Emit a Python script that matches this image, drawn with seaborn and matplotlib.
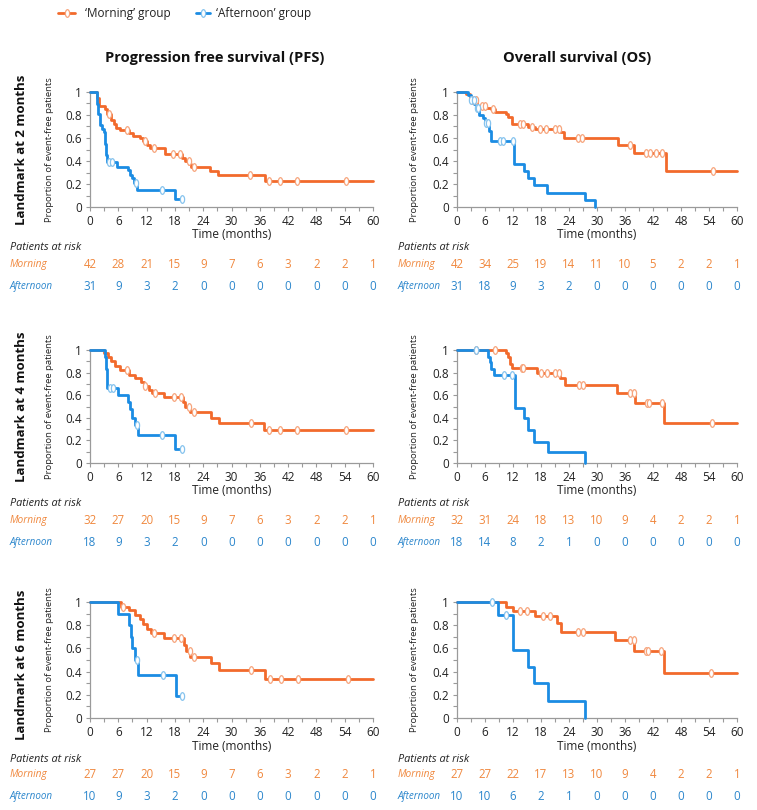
import numpy as np
import pandas as pd
import matplotlib
matplotlib.use("Agg")
import matplotlib.pyplot as plt
import matplotlib.transforms as mtransforms
from matplotlib.path import Path
from matplotlib.lines import Line2D
import seaborn as sns

# ---------------- data ----------------
x_ticks = [0, 6, 12, 18, 24, 30, 36, 42, 48, 54, 60]
y_ticks = [0, 0.2, 0.4, 0.6, 0.8, 1.0]
y_tick_labels = ["0", "0.2", "0.4", "0.6", "0.8", "1"]
col_titles = ["Progression free survival (PFS)", "Overall survival (OS)"]
row_titles = ["Landmark at 2 months", "Landmark at 4 months", "Landmark at 6 months"]
group_labels = ["\u2018Morning\u2019 group", "\u2018Afternoon\u2019 group"]

# Landmark 2 months - PFS
pfs2_m_t = [0, 1.5, 2.0, 3.2, 3.6, 4.4, 5.1, 5.6, 6.4, 8.3, 9.2, 10.6, 11.3, 12.0, 12.8, 15.8, 19.5, 20.1, 21.0, 21.5, 25.5, 27.2, 37.0]
pfs2_m_s = [1, 0.95, 0.88, 0.85, 0.81, 0.76, 0.72, 0.69, 0.67, 0.64, 0.62, 0.60, 0.57, 0.54, 0.51, 0.46, 0.43, 0.40, 0.37, 0.35, 0.31, 0.28, 0.23]
pfs2_m_c = [4.0, 7.8, 11.7, 13.6, 17.7, 19.1, 20.9, 22.0, 34.0, 37.9, 40.2, 43.8, 54.3]
pfs2_a_t = [0, 1.4, 1.8, 2.1, 2.6, 3.0, 3.2, 3.4, 3.6, 5.7, 8.0, 8.5, 8.9, 9.4, 9.9, 18.1]
pfs2_a_s = [1, 0.90, 0.81, 0.71, 0.68, 0.65, 0.55, 0.45, 0.39, 0.35, 0.32, 0.28, 0.25, 0.21, 0.15, 0.07]
pfs2_a_c = [4.0, 4.6, 9.7, 15.2, 19.4]
pfs2_risk_m = [42, 28, 21, 15, 9, 7, 6, 3, 2, 2, 1]
pfs2_risk_a = [31, 9, 3, 2, 0, 0, 0, 0, 0, 0, 0]

# Landmark 2 months - OS
os2_m_t = [0, 1.9, 2.7, 3.0, 4.3, 6.3, 7.2, 8.1, 10.6, 11.0, 11.7, 15.3, 16.7, 22.1, 22.9, 34.4, 38.0, 44.7]
os2_m_s = [1, 0.98, 0.95, 0.93, 0.88, 0.86, 0.85, 0.83, 0.81, 0.78, 0.72, 0.70, 0.68, 0.65, 0.60, 0.54, 0.47, 0.31]
os2_m_c = [3.3, 4.1, 5.3, 5.9, 7.7, 13.5, 14.2, 16.0, 17.8, 19.1, 21.1, 21.8, 26.0, 26.8, 37.1, 40.5, 41.4, 42.7, 43.9, 54.8]
os2_a_t = [0, 2.3, 2.9, 3.7, 4.1, 4.8, 5.5, 6.0, 6.8, 7.2, 12.3, 14.4, 15.3, 16.6, 19.3, 27.5, 29.6]
os2_a_s = [1, 0.97, 0.93, 0.90, 0.86, 0.80, 0.77, 0.73, 0.66, 0.57, 0.37, 0.31, 0.25, 0.19, 0.12, 0.06, 0.0]
os2_a_c = [3.0, 3.6, 4.3, 4.6, 6.3, 6.6, 9.2, 9.9, 12.0]
os2_risk_m = [42, 34, 25, 19, 14, 11, 10, 5, 2, 2, 1]
os2_risk_a = [31, 18, 9, 3, 2, 0, 0, 0, 0, 0, 0]

# Landmark 4 months - PFS
pfs4_m_t = [0, 3.0, 3.8, 4.5, 5.3, 6.4, 8.2, 9.6, 10.9, 11.4, 12.5, 13.2, 15.7, 19.7, 20.1, 21.2, 25.6, 27.3, 36.8]
pfs4_m_s = [1, 0.97, 0.94, 0.90, 0.86, 0.82, 0.78, 0.75, 0.72, 0.68, 0.65, 0.62, 0.58, 0.54, 0.50, 0.45, 0.40, 0.35, 0.29]
pfs4_m_c = [7.8, 11.7, 13.7, 17.8, 19.2, 21.0, 22.1, 34.2, 37.9, 40.2, 43.8, 54.3]
pfs4_a_t = [0, 3.1, 3.3, 3.4, 3.5, 3.6, 3.7, 6.0, 8.0, 8.5, 8.9, 9.6, 10.1, 18.1]
pfs4_a_s = [1, 0.94, 0.89, 0.83, 0.78, 0.72, 0.66, 0.60, 0.54, 0.48, 0.40, 0.34, 0.25, 0.125]
pfs4_a_c = [4.3, 4.8, 9.9, 15.3, 19.4]
pfs4_risk_m = [32, 27, 20, 15, 9, 7, 6, 3, 2, 2, 1]
pfs4_risk_a = [18, 9, 3, 2, 0, 0, 0, 0, 0, 0, 0]

# Landmark 4 months - OS
os4_m_t = [0, 10.5, 11.0, 11.4, 11.8, 17.1, 22.1, 23.1, 34.3, 38.1, 44.3]
os4_m_s = [1, 0.97, 0.94, 0.88, 0.84, 0.80, 0.75, 0.69, 0.62, 0.53, 0.35]
os4_m_c = [4.0, 8.2, 13.9, 14.1, 18.0, 19.3, 21.1, 21.8, 26.1, 27.1, 37.1, 37.9, 40.7, 41.1, 43.9, 54.6]
os4_a_t = [0, 6.6, 7.0, 7.3, 7.9, 12.4, 14.3, 15.2, 16.6, 19.5, 27.5]
os4_a_s = [1, 0.94, 0.89, 0.83, 0.78, 0.49, 0.40, 0.29, 0.19, 0.10, 0.0]
os4_a_c = [4.1, 10.0, 11.8]
os4_risk_m = [32, 31, 24, 18, 13, 10, 9, 4, 2, 2, 1]
os4_risk_a = [18, 14, 8, 2, 1, 0, 0, 0, 0, 0, 0]

# Landmark 6 months - PFS
pfs6_m_t = [0, 6.6, 8.3, 9.6, 10.5, 11.2, 12.0, 13.0, 15.7, 20.0, 20.4, 21.3, 25.7, 27.4, 37.0]
pfs6_m_s = [1, 0.96, 0.93, 0.89, 0.85, 0.81, 0.77, 0.73, 0.69, 0.63, 0.58, 0.53, 0.47, 0.41, 0.34]
pfs6_m_c = [7.0, 13.6, 17.9, 19.3, 21.1, 22.1, 34.2, 38.1, 40.4, 44.0, 54.6]
pfs6_a_t = [0, 6.0, 8.3, 8.7, 9.0, 9.6, 10.2, 18.2]
pfs6_a_s = [1, 0.90, 0.80, 0.70, 0.60, 0.50, 0.375, 0.1875]
pfs6_a_c = [10.0, 15.4, 19.4]
pfs6_risk_m = [27, 27, 20, 15, 9, 7, 6, 3, 2, 2, 1]
pfs6_risk_a = [10, 9, 3, 2, 0, 0, 0, 0, 0, 0, 0]

# Landmark 6 months - OS
os6_m_t = [0, 10.5, 12.0, 16.8, 21.5, 22.3, 33.9, 38.0, 44.3]
os6_m_s = [1, 0.96, 0.92, 0.88, 0.82, 0.745, 0.67, 0.575, 0.385]
os6_m_c = [13.5, 15.0, 18.5, 20.0, 25.9, 27.0, 37.0, 37.9, 40.4, 40.9, 43.7, 54.4]
os6_a_t = [0, 8.7, 12.1, 15.2, 16.6, 19.4, 27.5]
os6_a_s = [1, 0.89, 0.59, 0.44, 0.30, 0.15, 0.0]
os6_a_c = [7.5, 10.5]
os6_risk_m = [27, 27, 22, 17, 13, 10, 9, 4, 2, 2, 1]
os6_risk_a = [10, 10, 6, 2, 1, 0, 0, 0, 0, 0, 0]

# follow-up end of the morning curves (line runs to axis end), afternoon end = last censor
panels = [
    [(pfs2_m_t, pfs2_m_s, pfs2_m_c, 60, pfs2_a_t, pfs2_a_s, pfs2_a_c, 19.4, pfs2_risk_m, pfs2_risk_a),
     (os2_m_t, os2_m_s, os2_m_c, 60, os2_a_t, os2_a_s, os2_a_c, None, os2_risk_m, os2_risk_a)],
    [(pfs4_m_t, pfs4_m_s, pfs4_m_c, 60, pfs4_a_t, pfs4_a_s, pfs4_a_c, 19.4, pfs4_risk_m, pfs4_risk_a),
     (os4_m_t, os4_m_s, os4_m_c, 60, os4_a_t, os4_a_s, os4_a_c, None, os4_risk_m, os4_risk_a)],
    [(pfs6_m_t, pfs6_m_s, pfs6_m_c, 60, pfs6_a_t, pfs6_a_s, pfs6_a_c, 19.4, pfs6_risk_m, pfs6_risk_a),
     (os6_m_t, os6_m_s, os6_m_c, 60, os6_a_t, os6_a_s, os6_a_c, None, os6_risk_m, os6_risk_a)],
]

# ---------------- style ----------------
ORANGE = "#F26A2C"
ORANGE_C = "#F7A47C"
ORANGE_T = "#F0883E"
BLUE = "#1B8CE3"
BLUE_C = "#86C3EE"
BLUE_T = "#2B86CC"
GREY = "#9A9A9A"

sns.set_style("ticks")
plt.rcParams["font.family"] = ["Open Sans", "DejaVu Sans"]

W, H = 757, 810
fig = plt.figure(figsize=(W / 100, H / 100), dpi=100)

ell = Path.unit_circle().transformed(mtransforms.Affine2D().scale(0.55, 1.0))

# axes positions in pixels: (left, right) and (top, bottom)
col_px = [(90, 373), (457, 737)]
row_px = [(92, 207), (350, 463), (602, 718)]
ylab_dx = [-36, -38]
par_dx = [-80, -59]
LW = 2.0
MS = 5.5


def draw_curve(ax, t, s, c, end, color, ccolor):
    tt = list(t)
    ss = list(s)
    if end is not None:
        tt.append(end)
        ss.append(s[-1])
    df = pd.DataFrame({"t": tt, "s": ss})
    sns.lineplot(data=df, x="t", y="s", drawstyle="steps-post", color=color,
                 lw=LW, ax=ax, estimator=None, sort=False, clip_on=False, zorder=3)
    tarr = np.array(t)
    cy = [s[np.searchsorted(tarr, ci, side="right") - 1] for ci in c]
    ax.plot(c, cy, ls="none", marker=ell, ms=MS, mfc="white", mec=ccolor,
            mew=0.9, zorder=5, clip_on=False)


for r in range(3):
    top, bot = row_px[r]
    for cidx in range(2):
        left, right = col_px[cidx]
        ax = fig.add_axes([left / W, 1 - bot / H, (right - left) / W, (bot - top) / H])
        mt, ms_, mc, mend, at, as_, ac, aend, rm, ra = panels[r][cidx]
        draw_curve(ax, mt, ms_, mc, mend, ORANGE, ORANGE_C)
        draw_curve(ax, at, as_, ac, aend, BLUE, BLUE_C)
        ax.set_xlim(0, 60)
        ax.set_ylim(0, 1)
        ax.set_xticks(x_ticks)
        ax.set_xticks(np.arange(3, 60, 6), minor=True)
        ax.set_yticks(y_ticks)
        ax.set_yticklabels(y_tick_labels)
        ax.set_yticks(np.arange(0.1, 1.0, 0.2), minor=True)
        sns.despine(ax=ax)
        for sp in ["left", "bottom"]:
            ax.spines[sp].set_color(GREY)
            ax.spines[sp].set_linewidth(0.9)
        ax.tick_params(which="both", direction="out", length=3, width=0.8, color=GREY,
                       labelsize=8.5, labelcolor="#222222", pad=3)
        ax.set_xlabel("")
        ax.set_ylabel("Proportion of event-free patients", fontsize=6.8, color="#222222")
        ax.yaxis.set_label_coords(ylab_dx[cidx] / (right - left), 0.5)
        hpx = bot - top
        ax.text(0.5, -28 / hpx, "Time (months)", transform=ax.transAxes,
                ha="center", va="center", fontsize=8.5, color="#222222")
        # risk table
        ax.text(par_dx[cidx] / (right - left), -41 / hpx, "Patients at risk",
                transform=ax.transAxes, ha="left", va="center", fontsize=7.8,
                style="italic", color="#222222")
        ax.text(par_dx[cidx] / (right - left), -57 / hpx, "Morning",
                transform=ax.transAxes, ha="left", va="center", fontsize=7.3,
                style="italic", color=ORANGE_T)
        ax.text(par_dx[cidx] / (right - left), -79 / hpx, "Afternoon",
                transform=ax.transAxes, ha="left", va="center", fontsize=7.1,
                style="italic", color=BLUE_T)
        btf = mtransforms.blended_transform_factory(ax.transData, ax.transAxes)
        for xv, n in zip(x_ticks, rm):
            ax.text(xv, -57 / hpx, str(n), transform=btf, ha="center", va="center",
                    fontsize=8.3, color=ORANGE_T)
        for xv, n in zip(x_ticks, ra):
            ax.text(xv, -79 / hpx, str(n), transform=btf, ha="center", va="center",
                    fontsize=8.3, color=BLUE_T)

# column titles
fig.text(215 / W, 1 - 58 / H, col_titles[0], ha="center", va="center",
         fontsize=10.5, fontweight="bold", color="#111111")
fig.text(577 / W, 1 - 58 / H, col_titles[1], ha="center", va="center",
         fontsize=10.5, fontweight="bold", color="#111111")
# row titles
for r, yc in enumerate([150, 407, 665]):
    fig.text(22 / W, 1 - yc / H, row_titles[r], rotation=90, ha="center", va="center",
             fontsize=9.5, fontweight="bold", color="#111111",
             family=["Liberation Sans Narrow", "Open Sans", "DejaVu Sans"])

# legend
for (x0, x1, xt), col, ccol, lab in [((58, 75, 85), ORANGE, ORANGE_C, group_labels[0]),
                                      ((196, 210, 216), BLUE, BLUE_C, group_labels[1])]:
    ln = Line2D([x0 / W, (x0 + x1) / 2 / W, x1 / W], [1 - 13 / H] * 3, transform=fig.transFigure,
                color=col, lw=LW, marker=ell, ms=MS, mfc="white", mec=ccol, mew=0.9,
                markevery=[1])
    fig.add_artist(ln)
    fig.text(xt / W, 1 - 13 / H, lab, ha="left", va="center", fontsize=8.5, color="#222222")

fig.savefig("out.png", dpi=100)
